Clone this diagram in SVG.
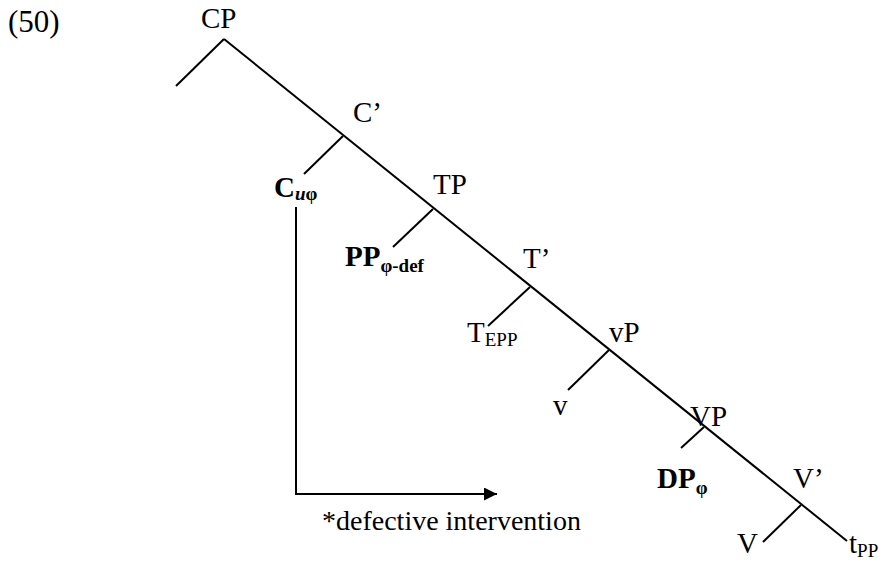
<svg xmlns="http://www.w3.org/2000/svg" width="887" height="569" viewBox="0 0 887 569">
<style>
text{font-family:"Liberation Serif","Times New Roman",serif;font-size:29px;fill:#000}
.b{font-weight:bold}
.s{font-size:19px}
.l{stroke:#000;stroke-width:2;fill:none}
</style>
<defs>
<marker id="ah" viewBox="0 0 12 12" refX="12" refY="6" markerWidth="13" markerHeight="13" markerUnits="userSpaceOnUse" orient="auto">
<path d="M0,0 L12,6 L0,12 z" fill="#000"/>
</marker>
</defs>
<rect width="887" height="569" fill="#fff"/>
<text x="8" y="32" style="font-size:31px">(50)</text>
<g id="connectors">
<line class="l" x1="224" y1="39" x2="847" y2="541"/>
<line class="l" x1="224" y1="39" x2="176" y2="86"/>
<line class="l" x1="343" y1="136" x2="304" y2="174"/>
<line class="l" x1="433" y1="209" x2="393" y2="247"/>
<line class="l" x1="530" y1="287" x2="488" y2="326"/>
<line class="l" x1="609" y1="350" x2="568" y2="390"/>
<line class="l" x1="704" y1="427" x2="681" y2="448"/>
<line class="l" x1="801" y1="505" x2="763" y2="542"/>
<polyline class="l" points="296,207 296,494 497,494" marker-end="url(#ah)"/>
</g>
<g id="CP"><text x="201" y="28">CP</text></g>
<g id="Cbar"><text x="353" y="122">C’</text></g>
<g id="C"><text x="274" y="197" class="b">C<tspan class="s" font-style="italic" dy="3">u</tspan><tspan class="s">φ</tspan></text></g>
<g id="TP"><text x="433" y="194">TP</text></g>
<g id="PP"><text x="345" y="266" class="b">PP<tspan class="s" dy="6">φ-def</tspan></text></g>
<g id="Tbar"><text x="523" y="268">T’</text></g>
<g id="T"><text x="467" y="342">T<tspan class="s" dy="4">EPP</tspan></text></g>
<g id="vP"><text x="609" y="342">vP</text></g>
<g id="v"><text x="553" y="415">v</text></g>
<g id="VP"><text x="690" y="426">VP</text></g>
<g id="DP"><text x="657" y="488" class="b">DP<tspan class="s" dy="6">φ</tspan></text></g>
<g id="Vbar"><text x="793" y="488">V’</text></g>
<g id="V"><text x="737" y="553">V</text></g>
<g id="t"><text x="849" y="553">t<tspan class="s" dy="4">PP</tspan></text></g>
<g id="label"><text x="322" y="530" style="font-size:28px">*defective intervention</text></g>
</svg>
